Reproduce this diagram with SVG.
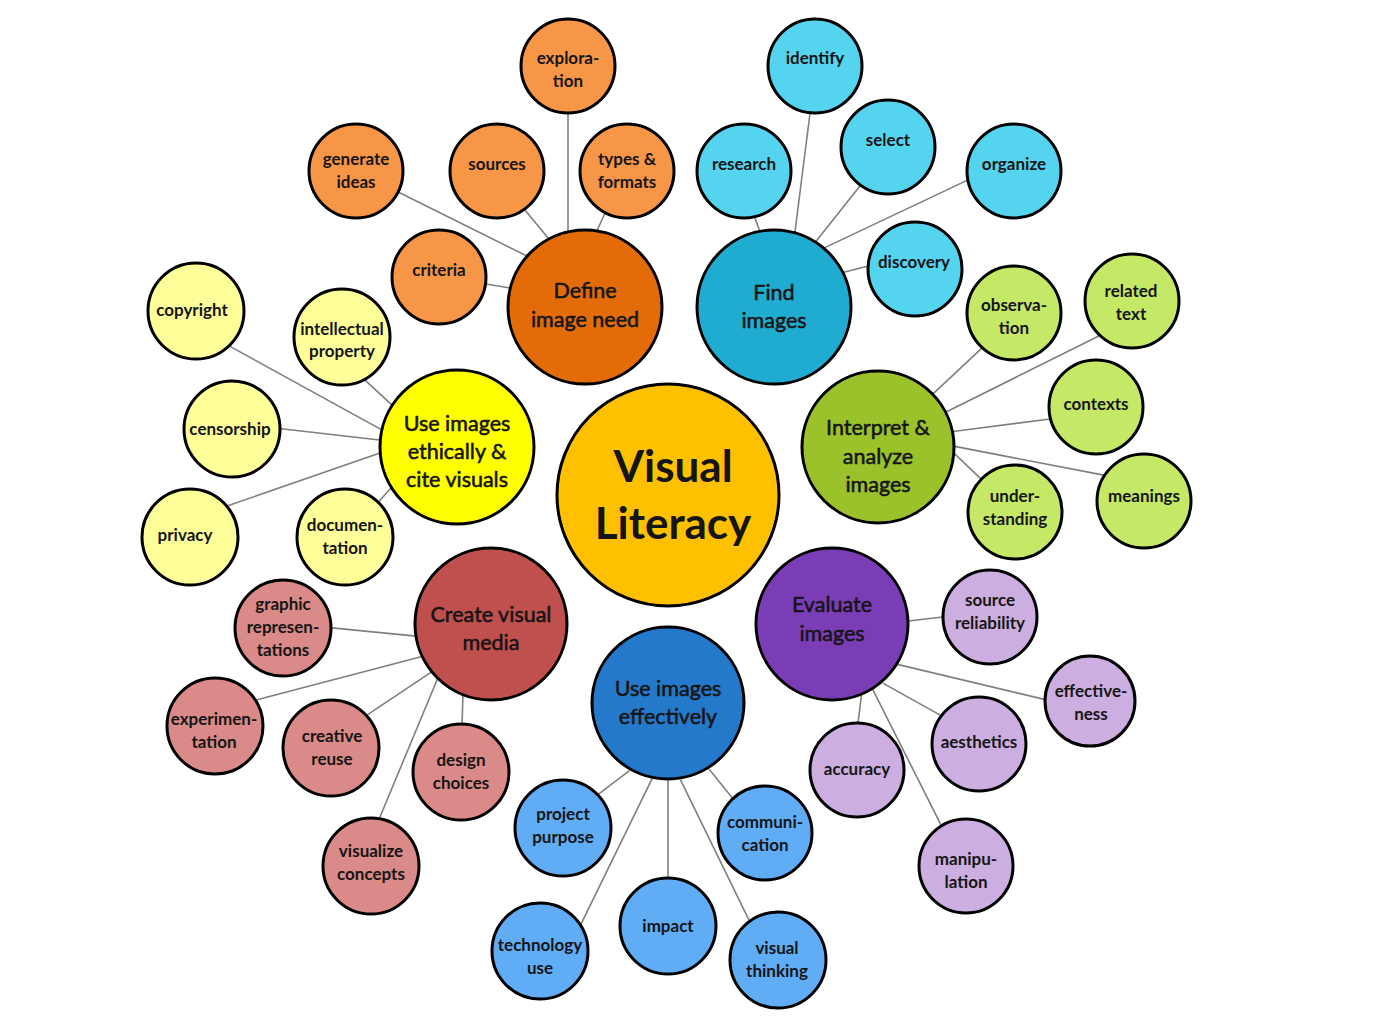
<svg xmlns="http://www.w3.org/2000/svg" width="1382" height="1024" viewBox="0 0 1382 1024">
<style>
.c{stroke:#000;stroke-width:3}
.hub{stroke:#000;stroke-width:3}
text{font-family:Lato,"Open Sans","Liberation Sans",sans-serif;fill:#151515;text-anchor:middle}
.l{font-size:17px;font-weight:700}
.h{font-size:21.5px;font-weight:400;stroke:#151515;stroke-width:0.55}
.m{font-size:44px;font-weight:700}
#connectors line{stroke:#7f7f7f;stroke-width:1.6}
.or{fill:#F79646}.orh{fill:#E36C09}
.cy{fill:#55D4F0}.cyh{fill:#20ACD0}
.gr{fill:#C5E866}.grh{fill:#9BC22A}
.yl{fill:#FFFF99}.ylh{fill:#FFFF00}
.pk{fill:#DA8A88}.pkh{fill:#C0504D}
.bl{fill:#60ACF5}.blh{fill:#2479CB}
.pu{fill:#CCAEE0}.puh{fill:#7B3DB5}
</style>
<rect width="1382" height="1024" fill="#fff"/>
<g id="connectors">
<line x1="568" y1="107" x2="568" y2="238"/>
<line x1="394.6" y1="190.3" x2="530.4" y2="257.7"/>
<line x1="521.2" y1="205.4" x2="551.8" y2="242.6"/>
<line x1="607.5" y1="207.5" x2="593.5" y2="238.5"/>
<line x1="480" y1="283" x2="516" y2="289"/>
<line x1="810.8" y1="107" x2="794.2" y2="238"/>
<line x1="753" y1="212.4" x2="762" y2="237.6"/>
<line x1="863.7" y1="181.3" x2="813.3" y2="244.7"/>
<line x1="973.4" y1="177.4" x2="820.6" y2="249.6"/>
<line x1="874" y1="264.5" x2="843" y2="272.5"/>
<line x1="986.4" y1="343.9" x2="930.6" y2="396.1"/>
<line x1="1102.4" y1="334.3" x2="944.6" y2="412.7"/>
<line x1="1056" y1="418.2" x2="951" y2="431.8"/>
<line x1="1108.9" y1="476.1" x2="952.1" y2="445.9"/>
<line x1="984.3" y1="482.1" x2="953.7" y2="452.9"/>
<line x1="362.6" y1="377.9" x2="396.4" y2="409.1"/>
<line x1="227.7" y1="345.1" x2="387.3" y2="432.9"/>
<line x1="277" y1="428.3" x2="386" y2="440.7"/>
<line x1="224.3" y1="507" x2="385.7" y2="451"/>
<line x1="378" y1="502.5" x2="395" y2="483.5"/>
<line x1="327" y1="627.4" x2="421" y2="636.6"/>
<line x1="254.2" y1="700.5" x2="425.8" y2="655.5"/>
<line x1="365" y1="716.3" x2="435" y2="669.7"/>
<line x1="377.7" y1="822.5" x2="439.3" y2="674.5"/>
<line x1="462" y1="729" x2="463" y2="691"/>
<line x1="595.2" y1="796.6" x2="629.8" y2="770.4"/>
<line x1="580.4" y1="925.4" x2="652.6" y2="777.6"/>
<line x1="668" y1="883" x2="668" y2="779"/>
<line x1="750.6" y1="923.4" x2="680.4" y2="779.6"/>
<line x1="733.8" y1="799.7" x2="709.2" y2="769.3"/>
<line x1="949" y1="616.3" x2="902" y2="621.7"/>
<line x1="1052.8" y1="701.4" x2="894.2" y2="663.6"/>
<line x1="945.2" y1="717.9" x2="882.8" y2="683.1"/>
<line x1="857.3" y1="729" x2="861.7" y2="693"/>
<line x1="942.7" y1="828.4" x2="870.3" y2="684.6"/>
</g>

<g id="visual-literacy"><circle class="hub" cx="668" cy="495" r="111" fill="#FFC000"/><text class="m" x="673" y="482">Visual</text><text class="m" x="673" y="539">Literacy</text></g>

<g id="define"><circle class="hub orh" cx="585" cy="307" r="77"/><text class="h" x="585" y="298">Define</text><text class="h" x="585" y="327">image need</text></g>
<g id="exploration"><circle class="c or" cx="568" cy="66" r="47"/><text class="l" x="568" y="64">explora-</text><text class="l" x="568" y="87">tion</text></g>
<g id="generate-ideas"><circle class="c or" cx="356" cy="171" r="47"/><text class="l" x="356" y="165">generate</text><text class="l" x="356" y="188">ideas</text></g>
<g id="sources"><circle class="c or" cx="497" cy="171" r="47"/><text class="l" x="497" y="170">sources</text></g>
<g id="types-formats"><circle class="c or" cx="627" cy="171" r="47"/><text class="l" x="627" y="165">types &amp;</text><text class="l" x="627" y="188">formats</text></g>
<g id="criteria"><circle class="c or" cx="439" cy="277" r="47"/><text class="l" x="439" y="276">criteria</text></g>

<g id="find"><circle class="hub cyh" cx="774" cy="307" r="77"/><text class="h" x="774" y="300">Find</text><text class="h" x="774" y="328">images</text></g>
<g id="identify"><circle class="c cy" cx="815" cy="66" r="47"/><text class="l" x="815" y="64">identify</text></g>
<g id="research"><circle class="c cy" cx="744" cy="171" r="47"/><text class="l" x="744" y="170">research</text></g>
<g id="select"><circle class="c cy" cx="888" cy="147" r="47"/><text class="l" x="888" y="146">select</text></g>
<g id="organize"><circle class="c cy" cx="1014" cy="171" r="47"/><text class="l" x="1014" y="170">organize</text></g>
<g id="discovery"><circle class="c cy" cx="915" cy="269" r="47"/><text class="l" x="914" y="268">discovery</text></g>

<g id="interpret"><circle class="hub grh" cx="878" cy="447" r="76"/><text class="h" x="878" y="435">Interpret &amp;</text><text class="h" x="878" y="464">analyze</text><text class="h" x="878" y="492">images</text></g>
<g id="observation"><circle class="c gr" cx="1014" cy="313" r="47"/><text class="l" x="1014" y="311">observa-</text><text class="l" x="1014" y="334">tion</text></g>
<g id="related-text"><circle class="c gr" cx="1132" cy="301" r="47"/><text class="l" x="1131" y="297">related</text><text class="l" x="1131" y="320">text</text></g>
<g id="contexts"><circle class="c gr" cx="1096" cy="407" r="47"/><text class="l" x="1096" y="410">contexts</text></g>
<g id="understanding"><circle class="c gr" cx="1015" cy="512" r="47"/><text class="l" x="1015" y="502">under-</text><text class="l" x="1015" y="525">standing</text></g>
<g id="meanings"><circle class="c gr" cx="1144" cy="501" r="47"/><text class="l" x="1144" y="502">meanings</text></g>

<g id="ethically"><circle class="hub ylh" cx="457" cy="447" r="77"/><text class="h" x="457" y="431">Use images</text><text class="h" x="457" y="459">ethically &amp;</text><text class="h" x="457" y="487">cite visuals</text></g>
<g id="copyright"><circle class="c yl" cx="196" cy="311" r="48"/><text class="l" x="192" y="316">copyright</text></g>
<g id="intellectual-property"><circle class="c yl" cx="342" cy="337" r="48"/><text class="l" x="342" y="335">intellectual</text><text class="l" x="342" y="357">property</text></g>
<g id="censorship"><circle class="c yl" cx="232" cy="429" r="48"/><text class="l" x="230" y="435">censorship</text></g>
<g id="privacy"><circle class="c yl" cx="190" cy="537" r="48"/><text class="l" x="185" y="541">privacy</text></g>
<g id="documentation"><circle class="c yl" cx="345" cy="537" r="48"/><text class="l" x="345" y="531">documen-</text><text class="l" x="345" y="554">tation</text></g>

<g id="create"><circle class="hub pkh" cx="491" cy="624" r="76"/><text class="h" x="491" y="622">Create visual</text><text class="h" x="491" y="650">media</text></g>
<g id="graphic"><circle class="c pk" cx="283" cy="628" r="48"/><text class="l" x="283" y="610">graphic</text><text class="l" x="283" y="633">represen-</text><text class="l" x="283" y="656">tations</text></g>
<g id="experimentation"><circle class="c pk" cx="215" cy="726" r="48"/><text class="l" x="214" y="725">experimen-</text><text class="l" x="214" y="748">tation</text></g>
<g id="creative-reuse"><circle class="c pk" cx="331" cy="748" r="48"/><text class="l" x="332" y="742">creative</text><text class="l" x="332" y="765">reuse</text></g>
<g id="design-choices"><circle class="c pk" cx="461" cy="772" r="48"/><text class="l" x="461" y="766">design</text><text class="l" x="461" y="789">choices</text></g>
<g id="visualize-concepts"><circle class="c pk" cx="371" cy="866" r="48"/><text class="l" x="371" y="857">visualize</text><text class="l" x="371" y="880">concepts</text></g>

<g id="effectively"><circle class="hub blh" cx="668" cy="703" r="76"/><text class="h" x="668" y="696">Use images</text><text class="h" x="668" y="724">effectively</text></g>
<g id="project-purpose"><circle class="c bl" cx="563" cy="828" r="48"/><text class="l" x="563" y="820">project</text><text class="l" x="563" y="843">purpose</text></g>
<g id="communication"><circle class="c bl" cx="765" cy="833" r="47"/><text class="l" x="765" y="828">communi-</text><text class="l" x="765" y="851">cation</text></g>
<g id="technology-use"><circle class="c bl" cx="540" cy="951" r="48"/><text class="l" x="540" y="951">technology</text><text class="l" x="540" y="974">use</text></g>
<g id="impact"><circle class="c bl" cx="668" cy="926" r="48"/><text class="l" x="668" y="932">impact</text></g>
<g id="visual-thinking"><circle class="c bl" cx="778" cy="960" r="48"/><text class="l" x="777" y="954">visual</text><text class="l" x="777" y="977">thinking</text></g>

<g id="evaluate"><circle class="hub puh" cx="832" cy="624" r="76"/><text class="h" x="832" y="612">Evaluate</text><text class="h" x="832" y="641">images</text></g>
<g id="source-reliability"><circle class="c pu" cx="990" cy="617" r="47"/><text class="l" x="990" y="606">source</text><text class="l" x="990" y="629">reliability</text></g>
<g id="effectiveness"><circle class="c pu" cx="1090" cy="701" r="45"/><text class="l" x="1091" y="697">effective-</text><text class="l" x="1091" y="720">ness</text></g>
<g id="aesthetics"><circle class="c pu" cx="979" cy="744" r="47"/><text class="l" x="979" y="748">aesthetics</text></g>
<g id="accuracy"><circle class="c pu" cx="857" cy="770" r="47"/><text class="l" x="857" y="775">accuracy</text></g>
<g id="manipulation"><circle class="c pu" cx="966" cy="866" r="47"/><text class="l" x="966" y="865">manipu-</text><text class="l" x="966" y="888">lation</text></g>
</svg>
